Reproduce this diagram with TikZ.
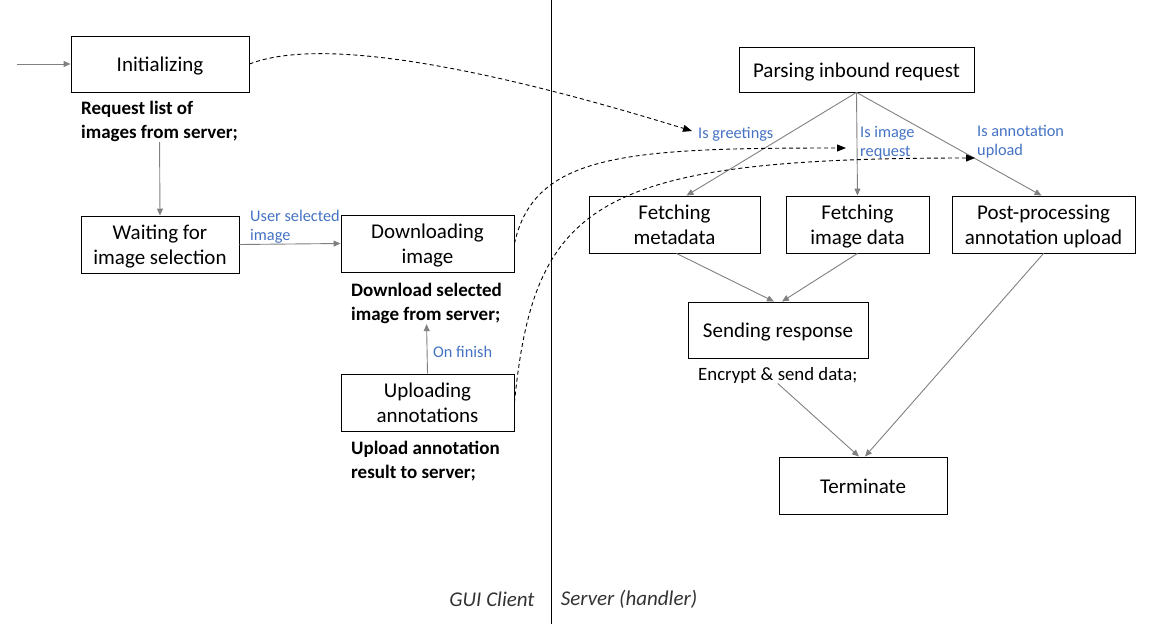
\documentclass[tikz,border=0pt]{standalone}
\usepackage{fontspec}
\setmainfont{Carlito}
\usetikzlibrary{arrows.meta}
\definecolor{lbl}{HTML}{4472C4}
\definecolor{arr}{HTML}{808080}
\tikzset{
 box/.style={draw=black, line width=0.9pt, align=center, inner sep=0pt, text height=18pt, text depth=3pt, font=\fontsize{21}{25.5}\selectfont},
 boxtwo/.style={box, text height=43.5pt},
 desc/.style={anchor=north west, align=left, inner sep=0pt, font=\fontsize{19}{24.2}\selectfont\bfseries},
 lab/.style={text=lbl, align=left, inner sep=0pt, anchor=north west, font=\fontsize{16.3}{19}\selectfont},
 plain/.style={anchor=north west, inner sep=0pt, font=\fontsize{18.8}{23}\selectfont},
 lane/.style={inner sep=0pt, font=\fontsize{21}{25}\selectfont\itshape, text=black!80},
 garrow/.style={draw=arr, line width=0.9pt, -{Triangle[length=7pt,width=6pt]}},
 darrow/.style={draw=black, line width=0.9pt, dash pattern=on 4pt off 3pt, -{Triangle[length=9pt,width=7pt]}},
}
\begin{document}
\begin{tikzpicture}[x=1pt,y=-1pt]
\useasboundingbox (0,0) rectangle (1152,624);
% lane divider
\draw[line width=0.9pt] (551,0) -- (551,624);
\node[lane] (gui) at (492,599) {GUI Client};
\node[lane] (srv) at (629,599) {Server (handler)};

% client side
\coordinate (start) at (17,64);
\node[box, minimum width=178pt, minimum height=56pt] (init) at (160,64) {Initializing};
\node[desc] (req) at (81,101) {Request list of\\images from server;};
\node[boxtwo, minimum width=158pt, minimum height=57pt] (wait) at (160,244.5) {Waiting for\\image selection};
\node[boxtwo, minimum width=173pt, minimum height=57pt] (dl) at (427.5,243.5) {Downloading\\image};
\node[desc] (dlt) at (351,283) {Download selected\\image from server;};
\node[boxtwo, minimum width=173pt, minimum height=57pt] (up) at (427.5,402.5) {Uploading\\annotations};
\node[desc] (upt) at (351,441) {Upload annotation\\result to server;};
\node[lab] (usel) at (250,210) {User selected\\image};
\node[lab] (onf) at (433,346) {On finish};

% server side
\node[box, minimum width=235pt, minimum height=45pt] (parse) at (856.5,69.5) {Parsing inbound request};
\node[boxtwo, minimum width=171pt, minimum height=57pt] (fm) at (674.5,224.5) {Fetching\\metadata};
\node[boxtwo, minimum width=143pt, minimum height=57pt] (fi) at (857.5,224.5) {Fetching\\image data};
\node[boxtwo, minimum width=183pt, minimum height=57pt] (pp) at (1043.5,224.5) {Post-processing\\annotation upload};
\node[box, minimum width=180pt, minimum height=56pt] (send) at (778,330) {Sending response};
\node[plain] (enc) at (698,367) {Encrypt \& send data;};
\node[box, minimum width=168pt, minimum height=57pt] (term) at (863,485.5) {Terminate};
\node[lab] (greet) at (698,127) {Is greetings};
\node[lab] (imreq) at (860,126) {Is image\\request};
\node[lab] (annup) at (977,125) {Is annotation\\upload};

\coordinate (gtip) at (692,131);
\coordinate (itip) at (846,148);
\coordinate (atip) at (975,158);

% grey arrows
\draw[garrow] (start) -- (init.west);
\draw[garrow] (req.south) -- (wait.north);
\draw[garrow] (wait.east) -- (dl.west);
\draw[garrow] (up.north) -- (dlt.south);
\draw[garrow] (parse.south) -- ([xshift=12pt]fm.north);
\draw[garrow] (parse.south) -- (fi.north);
\draw[garrow] (parse.south) -- ([xshift=-2pt]pp.north);
\draw[garrow] ([xshift=2pt]fm.south) -- ([xshift=-4pt]send.north);
\draw[garrow] (fi.south) -- ([xshift=4pt]send.north);
\draw[garrow] (enc.south) -- ([xshift=-4pt]term.north);
\draw[garrow] (pp.south) -- ([xshift=2pt]term.north);

% dashed arrows
\draw[darrow] (init.east) .. controls +(90,-35) and +(-130,-40) .. (gtip);
\draw[darrow] (dl.east) .. controls +(20,-90) and +(-220,0) .. (itip);
\draw[darrow] (up.east) .. controls +(20,-200) and +(-380,0) .. (atip);
\end{tikzpicture}
\end{document}
